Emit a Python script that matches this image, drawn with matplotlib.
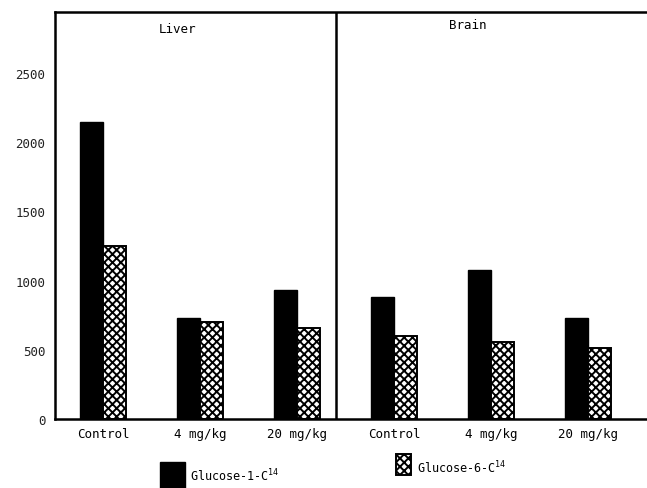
import numpy as np
import matplotlib
matplotlib.use('Agg')
import matplotlib.pyplot as plt
from matplotlib.patches import Rectangle

plt.rcParams['font.family'] = 'DejaVu Sans Mono'
plt.rcParams['hatch.linewidth'] = 1.4

# data
groups = ['Control', '4 mg/kg', '20 mg/kg', 'Control', '4 mg/kg', '20 mg/kg']
tissues = ['Liver', 'Brain']
glucose1 = [2150, 730, 930, 880, 1075, 730]
glucose6 = [1250, 700, 655, 600, 555, 515]
yticks = [0, 500, 1000, 1500, 2000, 2500]
labels = ['Glucose-1-C$^{\\mathregular{14}}$', 'Glucose-6-C$^{\\mathregular{14}}$']

fig = plt.figure(figsize=(6.47, 4.89), dpi=100)
ax = fig.add_axes([0.085, 0.141, 0.915, 0.832])

x = np.arange(len(groups))
w = 0.24
ax.bar(x - w/2, glucose1, w, color='black', edgecolor='black')
ax.bar(x + w/2, glucose6, w, color='white', edgecolor='black', hatch='xxxx', linewidth=1.4)

ax.set_xlim(-0.495, 5.61)
ax.set_ylim(0, 2940)
ax.axvline(2.40, color='black', lw=1.8)

ax.set_xticks(x)
ax.set_xticklabels(groups, fontsize=9)
ax.set_yticks(yticks)
ax.set_yticklabels([str(v) for v in yticks], fontsize=9, color='#222222')
ax.tick_params(length=0, pad=7)
ax.tick_params(axis='x', pad=6)

for s in ['left', 'top', 'bottom']:
    ax.spines[s].set_linewidth(1.8)
ax.spines['right'].set_visible(False)

ax.text(0.77, 2820, tissues[0], fontsize=9, ha='center', va='center')
ax.text(3.76, 2850, tissues[1], fontsize=9, ha='center', va='center')

# legend keys
fig.patches.append(Rectangle((160/647, 0.0), 25/647, 26/489, transform=fig.transFigure,
                             facecolor='black', edgecolor='black', figure=fig))
fig.patches.append(Rectangle((396/647, 13/489), 15/647, 21/489, transform=fig.transFigure,
                             facecolor='white', edgecolor='black', hatch='xxxx',
                             linewidth=1.4, figure=fig))
fig.text(190/647, 13/489, labels[0], fontsize=8.5, va='center', ha='left')
fig.text(417/647, 21/489, labels[1], fontsize=8.5, va='center', ha='left')

fig.savefig('out.png', dpi=100)
